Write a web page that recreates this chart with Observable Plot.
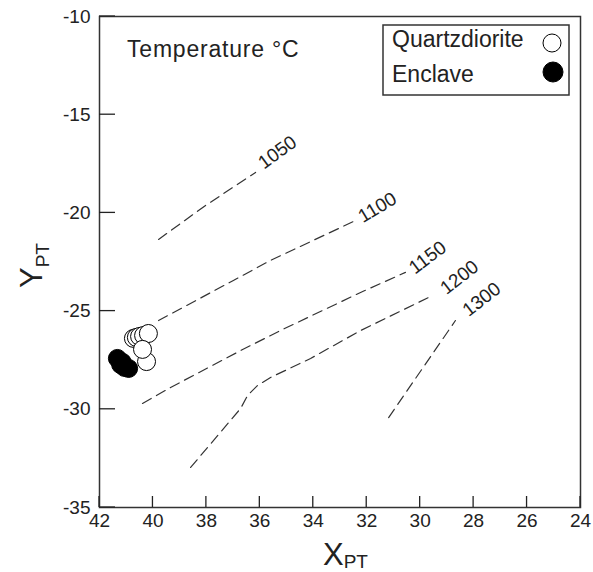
<!DOCTYPE html>
<html>
<head>
<meta charset="utf-8">
<script src="https://cdn.jsdelivr.net/npm/d3@7"></script>
<script src="https://cdn.jsdelivr.net/npm/@observablehq/plot@0.6"></script>
<style>
  html, body { margin: 0; padding: 0; background: white; }
  #chart svg { display: block; }
</style>
</head>
<body>
<div id="chart"></div>
<script>
// ---- data ----
const xTicks = [42, 40, 38, 36, 34, 32, 30, 28, 26, 24];
const yTicks = [-35, -30, -25, -20, -15, -10];

const quartzX = [40.73, 40.62, 40.50, 40.35, 40.17, 40.24, 40.39];
const quartzY = [-26.39, -26.34, -26.29, -26.24, -26.14, -27.57, -26.95];

const enclaveX = [41.33, 41.21, 41.15, 41.06, 40.91];
const enclaveY = [-27.41, -27.72, -27.60, -27.87, -27.92];

const levels = ["1050", "1100", "1150", "1200", "1300"];
const c1050X = [39.79, 38.03, 36.16];
const c1050Y = [-21.35, -19.62, -17.94];
const c1100X = [39.79, 36.99, 35.60, 32.42];
const c1100Y = [-25.48, -23.44, -22.42, -20.39];
const c1150X = [40.39, 39.34, 36.72, 35.23, 32.23, 30.55];
const c1150Y = [-29.70, -28.89, -27.01, -25.99, -24.05, -23.03];
const c1200X = [38.59, 36.72, 36.46, 36.09, 35.60, 34.10, 32.23, 29.69];
const c1200Y = [-32.96, -29.96, -29.30, -28.79, -28.38, -27.41, -25.99, -24.31];
const c1300X = [31.18, 28.68];
const c1300Y = [-30.42, -25.48];

const labelX = [35.34, 31.60, 29.72, 28.53, 27.70];
const labelY = [-16.92, -19.73, -22.27, -23.29, -24.41];
const labelRotate = [-36, -31, -37, -38, -38];

// ---- tables built from the arrays ----
const contourXs = [c1050X, c1100X, c1150X, c1200X, c1300X];
const contourYs = [c1050Y, c1100Y, c1150Y, c1200Y, c1300Y];
const contours = levels.flatMap((lv, i) =>
  contourXs[i].map((x, j) => ({level: lv, x, y: contourYs[i][j]})));
const labels = levels.map((lv, i) => ({text: lv, x: labelX[i], y: labelY[i], rot: labelRotate[i]}));
const quartz = quartzX.map((x, i) => ({x, y: quartzY[i]}));
const enclave = enclaveX.map((x, i) => ({x, y: enclaveY[i]}));

const FONT = "'Liberation Sans', Arial, Helvetica, sans-serif";
const INK = "#222";
const W = 593, H = 572, ML = 99, MR = 13, MT = 16, MB = 65;

const chart = Plot.plot({
  width: W,
  height: H,
  marginLeft: ML,
  marginRight: MR,
  marginTop: MT,
  marginBottom: MB,
  style: {fontFamily: FONT, fontSize: "19px", background: "white", color: INK},
  x: {domain: [42, 24]},
  y: {domain: [-35, -10]},
  marks: [
    // tick labels
    Plot.axisX(xTicks, {tickSize: 0, tickPadding: 6, label: null, tickFormat: d => String(d), fill: INK}),
    Plot.axisY(yTicks, {tickSize: 0, tickPadding: 9, label: null, tickFormat: d => String(d), fill: INK}),
    Plot.line(contours, {x: "x", y: "y", z: "level", stroke: "#333", strokeWidth: 1.2, strokeDasharray: "10,6"}),
    Plot.text(labels, {x: "x", y: "y", text: "text", rotate: "rot", fontSize: 19, fill: INK, textAnchor: "middle", lineAnchor: "middle"}),
    Plot.dot(quartz, {x: "x", y: "y", r: 9, fill: "white", stroke: "black", strokeWidth: 1}),
    Plot.dot(enclave, {x: "x", y: "y", r: 9, fill: "black", stroke: "black", strokeWidth: 1}),
    Plot.frame({stroke: "#333", strokeWidth: 1.5})
  ]
});

document.getElementById("chart").appendChild(chart);

// ---- inward tick marks, placed with the plot's own scales ----
const svg = d3.select(chart);
const sx = chart.scale("x"), sy = chart.scale("y");
const bottomPx = sy.apply(-35), leftPx = sx.apply(42);
const tg = svg.append("g");
xTicks.forEach(v => {
  const px = sx.apply(v);
  tg.append("path").attr("d", `M${px},${bottomPx}V${bottomPx - 11}`)
    .attr("stroke", INK).attr("stroke-width", 1.3).attr("fill", "none");
});
yTicks.forEach(v => {
  const py = sy.apply(v);
  tg.append("path").attr("d", `M${leftPx},${py}H${leftPx + 16}`)
    .attr("stroke", INK).attr("stroke-width", 1.3).attr("fill", "none");
});

// x-axis title  X_PT
const xt = svg.append("text")
  .attr("x", 323).attr("y", 565)
  .attr("text-anchor", "start")
  .attr("font-family", FONT).attr("fill", INK);
xt.append("tspan").attr("font-size", 31).text("X");
xt.append("tspan").attr("font-size", 19).attr("dy", 3).text("PT");

// y-axis title  Y_PT
const yt = svg.append("text")
  .attr("transform", "translate(42,288) rotate(-90)")
  .attr("text-anchor", "start")
  .attr("font-family", FONT).attr("fill", INK);
yt.append("tspan").attr("font-size", 31).text("Y");
yt.append("tspan").attr("font-size", 19).attr("dy", 7).text("PT");

// annotation
svg.append("text")
  .attr("x", 127).attr("y", 57)
  .attr("text-anchor", "start")
  .attr("font-family", FONT).attr("font-size", 23).attr("letter-spacing", 0.8).attr("fill", INK)
  .text("Temperature \u00B0C");

// legend
const lg = svg.append("g").attr("text-anchor", "start");
lg.append("rect").attr("x", 383).attr("y", 25).attr("width", 186).attr("height", 70)
  .attr("fill", "white").attr("stroke", "#333").attr("stroke-width", 1.5);
lg.append("text").attr("x", 392).attr("y", 47).attr("font-family", FONT).attr("font-size", 23)
  .attr("fill", INK).text("Quartzdiorite");
lg.append("circle").attr("cx", 552).attr("cy", 43).attr("r", 9)
  .attr("fill", "white").attr("stroke", "black");
lg.append("text").attr("x", 392).attr("y", 82).attr("font-family", FONT).attr("font-size", 23)
  .attr("fill", INK).text("Enclave");
lg.append("circle").attr("cx", 553).attr("cy", 72).attr("r", 10)
  .attr("fill", "black").attr("stroke", "black");
</script>
</body>
</html>
